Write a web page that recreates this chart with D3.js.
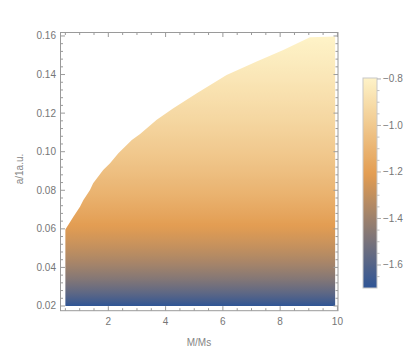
<!DOCTYPE html>
<html lang="en">
<head>
<meta charset="UTF-8">
<title>a vs M density</title>
<script src="https://d3js.org/d3.v7.min.js"></script>
<style>
    body, html {
        margin: 0;
        background: #ffffff;
        overflow: hidden;
    }
    svg {
        font-family: 'Liberation Sans', 'DejaVu Sans', sans-serif;
    }
    .tick-label {
        font-size: 10px;
        fill: #767676;
    }
    .axis-label {
        font-size: 10px;
        fill: #858585;
    }
</style>
</head>
<body>
<svg id="chart" width="415" height="361"></svg>
<script>
    // upper edge of the filled region
    const massEdge = [0.5, 0.78, 1.01, 1.13, 1.36, 1.47, 1.82, 2.06, 2.35, 2.82, 3.11, 3.69, 4.27, 5.09, 6.13, 7.18, 8.11, 9.04, 9.92];
    const aEdge    = [0.0597, 0.0663, 0.0715, 0.0750, 0.0801, 0.0836, 0.0905, 0.0940, 0.0992, 0.1061, 0.1092, 0.1165, 0.1225, 0.1303, 0.1398, 0.1467, 0.1527, 0.1593, 0.1597];
    const aMin = 0.02, aMax = 0.16;
    const massMin = 0.5, massMax = 9.92;

    const xTicks = [2, 4, 6, 8, 10];
    const yTicks = [0.02, 0.04, 0.06, 0.08, 0.10, 0.12, 0.14, 0.16];
    const barTicks = [-0.8, -1.0, -1.2, -1.4, -1.6];

    // colour map (value is log10 of a)
    const colourValues = [-1.699, -1.21, -0.796];
    const colourStops = ["#2f5596", "#e39d52", "#fef3c8"];

    const svg = d3.select('#chart');
    const x = d3.scaleLinear().domain([0.33, 10.02]).range([60.5, 338]);
    const y = d3.scaleLinear().domain([0.01756, 0.1618]).range([310.7, 32.5]);
    const colour = d3.scaleLinear().domain(colourValues).range(colourStops);
    const bar = d3.scaleLinear().domain([Math.log10(aMin), Math.log10(aMax)]).range([288, 78]);

    const defs = svg.append('defs');

    // vertical gradient for the plot: colour follows log10(a)
    const plotGrad = defs.append('linearGradient')
        .attr('id', 'plotGrad')
        .attr('gradientUnits', 'userSpaceOnUse')
        .attr('x1', 0).attr('x2', 0)
        .attr('y1', y(aMin)).attr('y2', y(aMax));
    d3.range(0, 61).forEach(i => {
        const a = aMin + (aMax - aMin) * i / 60;
        plotGrad.append('stop')
            .attr('offset', i / 60)
            .attr('stop-color', colour(Math.log10(a)));
    });

    const barGrad = defs.append('linearGradient')
        .attr('id', 'barGrad')
        .attr('x1', 0).attr('x2', 0).attr('y1', 1).attr('y2', 0);
    d3.range(0, 41).forEach(i => {
        const v = bar.domain()[0] + (bar.domain()[1] - bar.domain()[0]) * i / 40;
        barGrad.append('stop')
            .attr('offset', i / 40)
            .attr('stop-color', colour(v));
    });

    // filled region
    const region = [[massMin, aMin]]
        .concat(massEdge.map((m, i) => [m, aEdge[i]]))
        .concat([[massMax, aMin]]);
    svg.append('path')
        .attr('d', d3.line().x(d => x(d[0])).y(d => y(d[1]))(region) + 'Z')
        .attr('fill', 'url(#plotGrad)');

    // frame
    const frame = { l: 60.5, r: 338, t: 32.5, b: 310.7 };
    svg.append('rect')
        .attr('x', frame.l).attr('y', frame.t)
        .attr('width', frame.r - frame.l).attr('height', frame.b - frame.t)
        .attr('fill', 'none')
        .attr('stroke', '#9a9a9a')
        .attr('stroke-width', 1);

    const tickStroke = '#9a9a9a';
    const xMinor = d3.range(0.5, 10.01, 0.5).filter(v => !xTicks.includes(v));
    const yMinor = d3.range(0.02, 0.1601, 0.004).filter(v => !yTicks.some(t => Math.abs(t - v) < 1e-6));

    function xTick(v, len) {
        [[frame.b, -1], [frame.t, 1]].forEach(([base, dir]) => {
            svg.append('line')
                .attr('x1', x(v)).attr('x2', x(v))
                .attr('y1', base).attr('y2', base + dir * len)
                .attr('stroke', tickStroke);
        });
    }
    function yTick(v, len) {
        [[frame.l, 1], [frame.r, -1]].forEach(([base, dir]) => {
            svg.append('line')
                .attr('y1', y(v)).attr('y2', y(v))
                .attr('x1', base).attr('x2', base + dir * len)
                .attr('stroke', tickStroke);
        });
    }
    xTicks.forEach(v => xTick(v, 4.5));
    xMinor.forEach(v => xTick(v, 2.5));
    yTicks.forEach(v => yTick(v, 4.5));
    yMinor.forEach(v => yTick(v, 2.5));

    svg.selectAll('.xlab').data(xTicks).enter().append('text')
        .attr('class', 'tick-label')
        .attr('x', d => x(d)).attr('y', 325)
        .attr('text-anchor', 'middle')
        .text(d => d);
    svg.selectAll('.ylab').data(yTicks).enter().append('text')
        .attr('class', 'tick-label')
        .attr('x', 56).attr('y', d => y(d) + 3.5)
        .attr('text-anchor', 'end')
        .text(d => d.toFixed(2));

    svg.append('text')
        .attr('class', 'axis-label')
        .attr('x', 199).attr('y', 346)
        .attr('text-anchor', 'middle')
        .text('M/Ms');
    svg.append('text')
        .attr('class', 'axis-label')
        .attr('transform', 'translate(23,169) rotate(-90)')
        .attr('text-anchor', 'middle')
        .text('a/1a.u.');

    // colour bar
    svg.append('rect')
        .attr('x', 363).attr('y', 78)
        .attr('width', 14).attr('height', 210)
        .attr('fill', 'url(#barGrad)')
        .attr('stroke', '#c8c8c8')
        .attr('stroke-width', 1);
    const barMinor = d3.range(-1.65, -0.79, 0.05).filter(v => !barTicks.some(t => Math.abs(t - v) < 1e-6));
    barTicks.forEach(v => {
        svg.append('line')
            .attr('x1', 377).attr('x2', 381)
            .attr('y1', bar(v)).attr('y2', bar(v))
            .attr('stroke', '#b0b0b0');
    });
    barMinor.forEach(v => {
        svg.append('line')
            .attr('x1', 377).attr('x2', 379.5)
            .attr('y1', bar(v)).attr('y2', bar(v))
            .attr('stroke', '#c0c0c0');
    });
    svg.selectAll('.blab').data(barTicks).enter().append('text')
        .attr('class', 'tick-label')
        .attr('x', 383).attr('y', d => bar(d) + 3.5)
        .text(d => '\u2212' + Math.abs(d).toFixed(1));
</script>
</body>
</html>
